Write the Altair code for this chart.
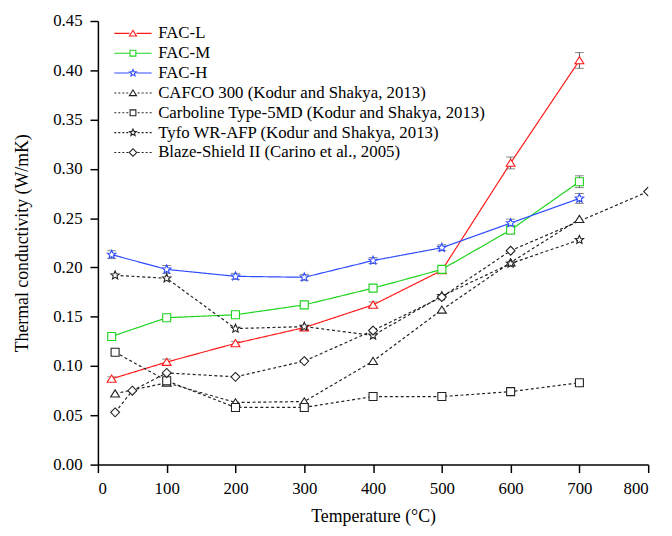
import altair as alt
import pandas as pd

# ---------------- data ----------------
series_names = [
    "FAC-L", "FAC-M", "FAC-H",
    "CAFCO 300 (Kodur and Shakya, 2013)",
    "Carboline Type-5MD (Kodur and Shakya, 2013)",
    "Tyfo WR-AFP (Kodur and Shakya, 2013)",
    "Blaze-Shield II (Carino et al., 2005)",
]

fac_temp = [20, 100, 200, 300, 400, 500, 600, 700]
fac_l = [0.087, 0.104, 0.123, 0.139, 0.162, 0.197, 0.306, 0.410]
fac_l_err = [0.002, 0.003, 0.002, 0.002, 0.003, 0.003, 0.006, 0.008]
fac_m = [0.130, 0.149, 0.152, 0.162, 0.179, 0.198, 0.238, 0.287]
fac_m_err = [0.002, 0.002, 0.003, 0.002, 0.002, 0.003, 0.004, 0.006]
fac_h = [0.213, 0.198, 0.191, 0.190, 0.207, 0.220, 0.245, 0.270]
fac_h_err = [0.004, 0.004, 0.003, 0.003, 0.003, 0.003, 0.004, 0.005]

ref_temp = [25, 100, 200, 300, 400, 500, 600, 700]
cafco = [0.072, 0.083, 0.063, 0.064, 0.105, 0.157, 0.205, 0.249]
carboline = [0.114, 0.085, 0.058, 0.058, 0.069, 0.069, 0.074, 0.083]
tyfo = [0.192, 0.189, 0.138, 0.140, 0.131, 0.171, 0.204, 0.228]

blaze_temp = [25, 50, 100, 200, 300, 400, 500, 600, 800]
blaze = [0.053, 0.075, 0.093, 0.089, 0.105, 0.136, 0.170, 0.217, 0.277]

x_ticks = list(range(0, 801, 50))
y_ticks = [round(i * 0.025, 3) for i in range(19)]

# ---------------- build table ----------------
rows = []
def add(name, temps, vals, errs=None):
    for i, (t, v) in enumerate(zip(temps, vals)):
        rows.append({"series": name, "T": t, "k": v,
                     "err": errs[i] if errs else None})

add(series_names[0], fac_temp, fac_l, fac_l_err)
add(series_names[1], fac_temp, fac_m, fac_m_err)
add(series_names[2], fac_temp, fac_h, fac_h_err)
add(series_names[3], ref_temp, cafco)
add(series_names[4], ref_temp, carboline)
add(series_names[5], ref_temp, tyfo)
add(series_names[6], blaze_temp, blaze)
df = pd.DataFrame(rows)
df["order"] = df["series"].map({n: i for i, n in enumerate(series_names)})
df["shape_key"] = "s:" + df["series"]
df["dash_key"] = "d:" + df["series"]
shape_domain = ["s:" + n for n in series_names]
dash_domain = ["d:" + n for n in series_names]

# ---------------- styles ----------------
colors = ["#ff1a1a", "#1ed41e", "#2f4cff", "#222222", "#222222", "#222222", "#222222"]
dashes = [[1, 0], [1, 0], [1, 0], [3, 2.5], [3, 2.5], [3, 2.5], [3, 2.5]]

tri = "M0,-0.85L1,0.75L-1,0.75Z"
sq = "M-0.9,-0.9H0.9V0.9H-0.9Z"
star = ("M0,-1L0.265,-0.364L0.951,-0.309L0.428,0.139L0.588,0.809L0,0.45"
        "L-0.588,0.809L-0.428,0.139L-0.951,-0.309L-0.265,-0.364Z")
dia = "M0,-1L1,0L0,1L-1,0Z"
marker_paths = [tri, sq, star, tri, sq, star, dia]

tri_s = "M0,-0.68L0.8,0.6L-0.8,0.6Z"
sq_s = "M-0.65,-0.65H0.65V0.65H-0.65Z"
star_s = ("M0,-0.8L0.212,-0.291L0.761,-0.247L0.342,0.111L0.47,0.647L0,0.36"
          "L-0.47,0.647L-0.342,0.111L-0.761,-0.247L-0.212,-0.291Z")
dia_s = "M0,-0.85L0.85,0L0,0.85L-0.85,0Z"
legend_markers = [tri_s, sq_s, star_s, tri_s, sq_s, star_s, dia_s]

solid_line = "M-4.2,0H-0.8M0.8,0H4.2"
dash_line = ("M-4.2,0H-3.75M-3.3,0H-2.85M-2.4,0H-1.95M-1.5,0H-1.05"
             "M1.05,0H1.5M1.95,0H2.4M2.85,0H3.3M3.75,0H4.2")
legend_paths = []
for i, p in enumerate(legend_markers):
    line = solid_line if i < 3 else dash_line
    legend_paths.append(line + p)

shape_expr = "'" + legend_paths[-1] + "'"
for n, p in reversed(list(zip(series_names[:-1], legend_paths[:-1]))):
    shape_expr = f"datum.value === '{n}' ? '{p}' : " + shape_expr

FONT = "Liberation Serif"

legend = alt.Legend(
    title=None, orient="none", legendX=27, legendY=4, padding=0,
    labelFont=FONT, labelFontSize=17, labelColor="black",
    symbolSize=81, labelOffset=17, rowPadding=2.1, labelLimit=0,
    symbolType={"expr": shape_expr},
    symbolFillColor="white", symbolDash=[1, 0], symbolStrokeWidth=1.1,
    symbolOpacity=1,
)

color = alt.Color("series:N", scale=alt.Scale(domain=series_names, range=colors),
                  legend=legend, sort=series_names)

x_major = "abs(datum.value/100 - round(datum.value/100)) < 1e-6"
y_major = "abs(datum.value*20 - round(datum.value*20)) < 1e-6"

x_axis = alt.Axis(values=x_ticks, title="Temperature (°C)",
                  labelExpr=f"{x_major} ? datum.label : ''",
                  labelFont=FONT, titleFont=FONT,
                  tickSize={"condition": {"test": x_major, "value": 8}, "value": 4},
                  labelPadding=8, titlePadding=12, grid=False)
y_axis = alt.Axis(values=y_ticks, title="Thermal conductivity (W/mK)",
                  labelExpr=f"{y_major} ? format(datum.value, '.2f') : ''",
                  labelFont=FONT, titleFont=FONT,
                  tickSize={"condition": {"test": y_major, "value": 8}, "value": 4},
                  labelPadding=8, titlePadding=22, grid=False)

x = alt.X("T:Q", scale=alt.Scale(domain=[0, 800], nice=False), axis=x_axis)
y = alt.Y("k:Q", scale=alt.Scale(domain=[0, 0.45], nice=False), axis=y_axis)

base = alt.Chart(df)

lines = base.mark_line(strokeWidth=1.2, clip=True).encode(
    x=x, y=y, color=color,
    strokeDash=alt.StrokeDash("dash_key:N", scale=alt.Scale(domain=dash_domain, range=dashes), legend=None),
    detail="series:N", order="T:Q",
)

err = base.transform_filter("isValid(datum.err)").transform_calculate(
    lo="datum.k - datum.err", hi="datum.k + datum.err")

err_rule = err.mark_rule(color="#555555", strokeWidth=1).encode(
    x="T:Q", y="lo:Q", y2="hi:Q")
cap_lo = err.mark_tick(color="#555555", orient="horizontal", size=9, thickness=1).encode(
    x="T:Q", y="lo:Q")
cap_hi = err.mark_tick(color="#555555", orient="horizontal", size=9, thickness=1).encode(
    x="T:Q", y="hi:Q")

points = base.mark_point(filled=False, fill="white", fillOpacity=1, opacity=1,
                         size=81, strokeWidth=1.1, clip=True).encode(
    x="T:Q", y="k:Q", color=color,
    shape=alt.Shape("shape_key:N", scale=alt.Scale(domain=shape_domain, range=marker_paths), legend=None),
    order="order:Q",
)

chart = alt.layer(lines, err_rule, cap_lo, cap_hi, points).properties(
    width=557, height=449,
    padding={"left": 91, "top": 10, "right": 16, "bottom": 60},
    autosize=alt.AutoSizeParams(type="none"),
).configure_axis(
    labelFont=FONT, titleFont=FONT, labelFontSize=17, titleFontSize=18,
    titleFontWeight="normal", labelColor="black", titleColor="black",
    domainColor="black", tickColor="black", domainWidth=1.5, tickWidth=1.5,
).configure_view(stroke=None)

chart.save("out.html", embed_options={"renderer": "svg", "actions": False})
